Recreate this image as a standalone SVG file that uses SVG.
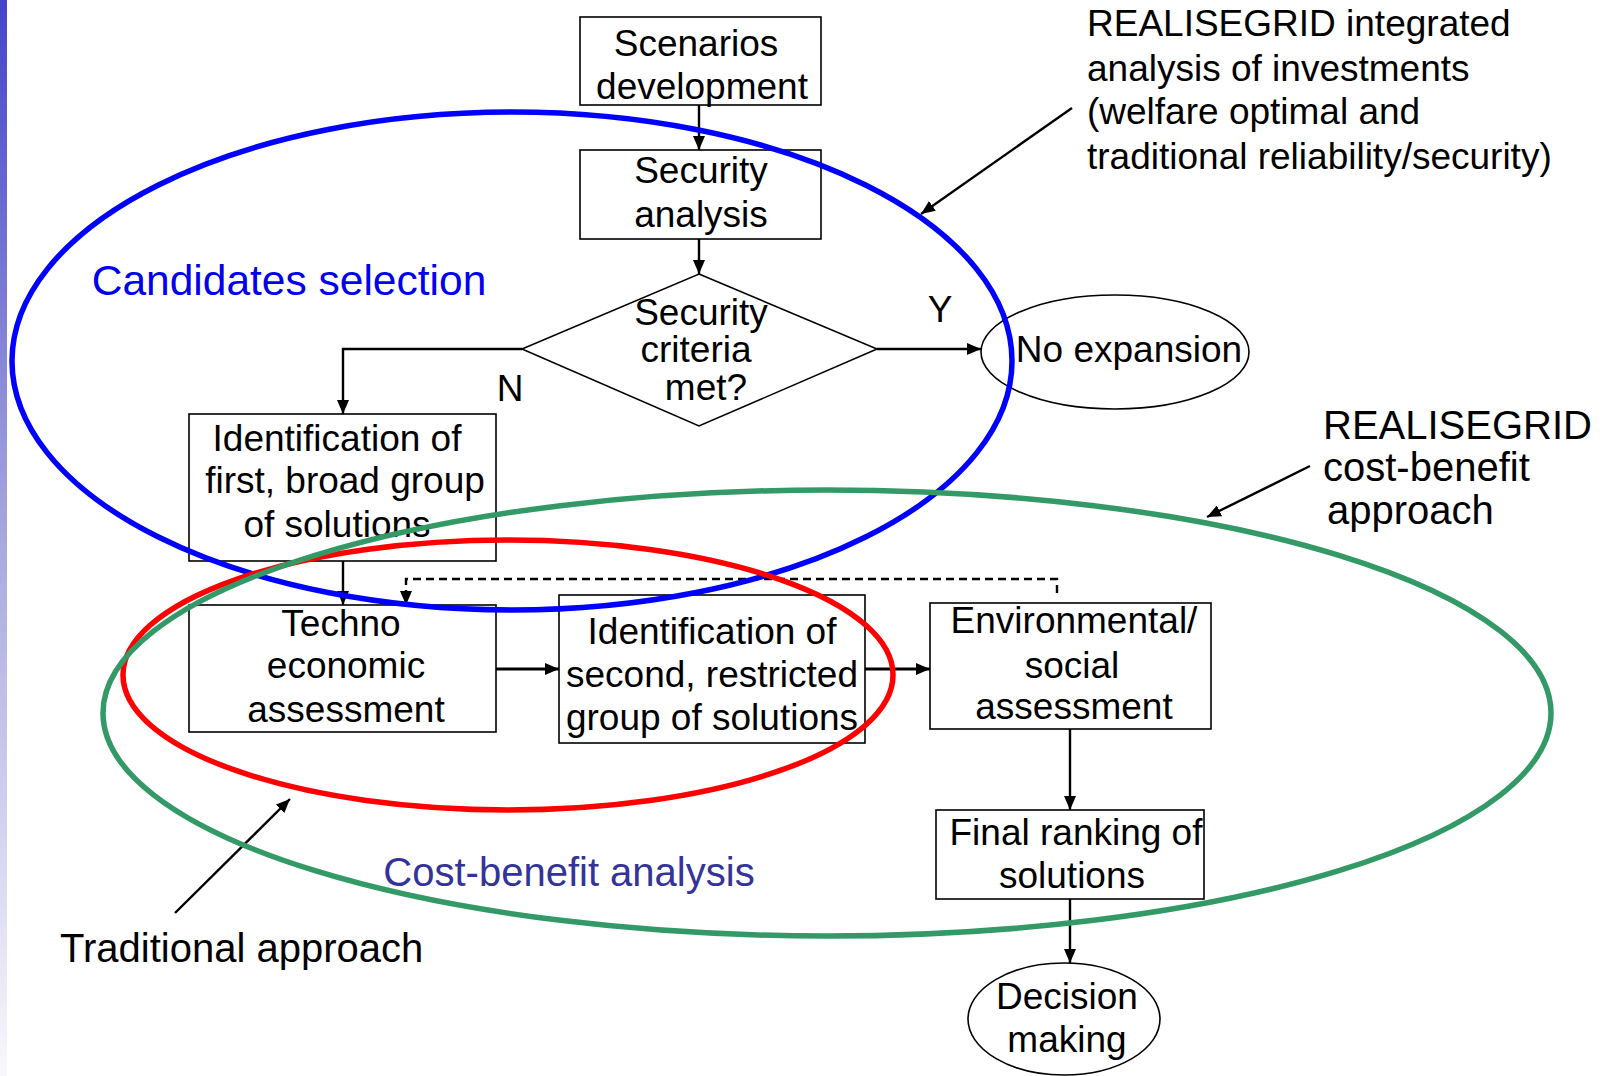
<svg xmlns="http://www.w3.org/2000/svg" width="1604" height="1076" viewBox="0 0 1604 1076">
<defs>
<linearGradient id="bar" x1="0" y1="0" x2="0" y2="1">
<stop offset="0" stop-color="#4444cc"/>
<stop offset="0.5" stop-color="#a8a8de"/>
<stop offset="1" stop-color="#f8f8fc"/>
</linearGradient>
<marker id="ah" viewBox="0 0 14 12" refX="14" refY="6" markerWidth="14" markerHeight="12" markerUnits="userSpaceOnUse" orient="auto">
<path d="M0,0 L14,6 L0,12 z" fill="#000"/>
</marker>
</defs>
<style>
text{font-family:"Liberation Sans",Arial,sans-serif;font-size:37px;fill:#000;text-anchor:middle}
.box{fill:#fff;stroke:#000;stroke-width:1.6}
.con{fill:none;stroke:#000;stroke-width:2.4;marker-end:url(#ah)}
.thick{stroke-width:3.2}
.dash{stroke-dasharray:8,5}
.ann{text-anchor:start}
.big{font-size:40px}
.ell{fill:none;stroke-width:5.5}
</style>
<rect x="0" y="0" width="7" height="1076" fill="url(#bar)"/>

<g id="scenarios">
<rect class="box" x="580" y="17" width="241" height="88"/>
<text x="696" y="56">Scenarios</text>
<text x="702" y="99">development</text>
</g>
<g id="security-analysis">
<rect class="box" x="580" y="150" width="241" height="89"/>
<text x="701" y="183">Security</text>
<text x="701" y="227">analysis</text>
</g>
<g id="security-criteria">
<polygon class="box" points="699,274 877,349 699,426 522,349"/>
<text x="701" y="325">Security</text>
<text x="696" y="362">criteria</text>
<text x="706" y="400">met?</text>
</g>
<g id="no-expansion">
<ellipse class="box" cx="1115" cy="352" rx="134" ry="57"/>
<text x="1129" y="362">No expansion</text>
</g>
<g id="identification-first">
<rect class="box" x="189" y="414" width="307" height="147"/>
<text x="337" y="451">Identification of</text>
<text x="345" y="493">first, broad group</text>
<text x="337" y="537">of solutions</text>
</g>
<g id="techno-economic">
<rect class="box" x="189" y="605" width="307" height="127"/>
<text x="341" y="636">Techno</text>
<text x="346" y="678">economic</text>
<text x="346" y="722">assessment</text>
</g>
<g id="identification-second">
<rect class="box" x="559" y="595" width="306" height="148"/>
<text x="712" y="644">Identification of</text>
<text x="712" y="687">second, restricted</text>
<text x="712" y="730">group of solutions</text>
</g>
<g id="environmental-social">
<rect class="box" x="930" y="603" width="281" height="126"/>
<text x="1074" y="633">Environmental/</text>
<text x="1072" y="678">social</text>
<text x="1074" y="719">assessment</text>
</g>
<g id="final-ranking">
<rect class="box" x="936" y="810" width="268" height="89"/>
<text x="1076" y="845">Final ranking of</text>
<text x="1072" y="888">solutions</text>
</g>
<g id="decision-making">
<ellipse class="box" cx="1064" cy="1019" rx="96" ry="56"/>
<text x="1067" y="1009">Decision</text>
<text x="1067" y="1052">making</text>
</g>

<g id="connectors">
<path class="con" d="M699,105 L699,150"/>
<path class="con" d="M699,239 L699,274"/>
<path class="con" d="M877,349 L981,349"/>
<path class="con" d="M522,349 L343,349 L343,414"/>
<path class="con" d="M343,561 L343,605"/>
<path class="con thick" d="M496,669 L559,669"/>
<path class="con thick" d="M865,669 L930,669"/>
<path class="con" d="M1070,729 L1070,810"/>
<path class="con" d="M1070,899 L1070,963"/>
<path class="con dash" d="M1057,593 L1057,579 L406,579 L406,605"/>
<path class="con" d="M1072,108 L921,214"/>
<path class="con" d="M1310,466 L1207,517"/>
<path class="con" d="M175,913 L290,799"/>
<text x="510" y="401">N</text>
<text x="940" y="322">Y</text>
</g>

<g id="regions">
<ellipse class="ell" cx="512" cy="361" rx="500" ry="249" stroke="#0000ff"/>
<ellipse class="ell" cx="508" cy="675" rx="385" ry="135" stroke="#ff0000"/>
<ellipse class="ell" cx="827" cy="713" rx="724" ry="223" stroke="#339966"/>
</g>

<g id="labels">
<text x="289" y="295" style="font-size:42.5px;fill:#0000ee">Candidates selection</text>
<text x="569" y="886" style="font-size:40px;fill:#333399">Cost-benefit analysis</text>
<text class="ann big" x="60" y="962">Traditional approach</text>
<text class="ann" x="1087" y="36">REALISEGRID integrated</text>
<text class="ann" x="1087" y="81">analysis of investments</text>
<text class="ann" x="1087" y="124">(welfare optimal and</text>
<text class="ann" x="1087" y="169">traditional reliability/security)</text>
<text class="ann big" x="1323" y="439">REALISEGRID</text>
<text class="ann big" x="1323" y="481">cost-benefit</text>
<text class="ann big" x="1327" y="524">approach</text>
</g>
</svg>
